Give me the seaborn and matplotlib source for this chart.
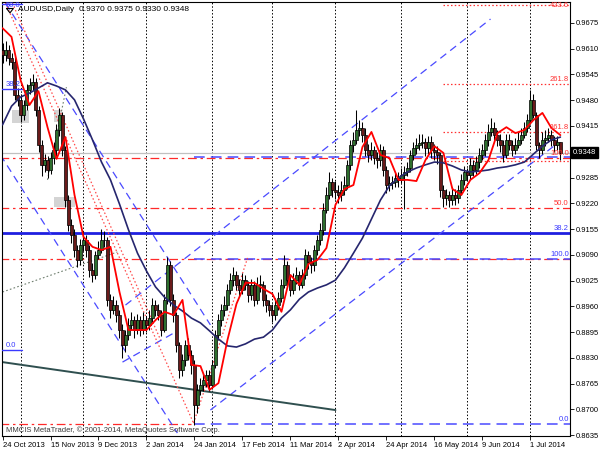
import numpy as np
import pandas as pd
import seaborn as sns
import matplotlib
matplotlib.use("Agg")
import matplotlib.pyplot as plt
from matplotlib.patches import Rectangle

sns.set_theme(style="white")
plt.rcParams["font.family"] = ["Liberation Sans", "DejaVu Sans"]

# ---------------- data ----------------
date_labels = ["24 Oct 2013", "15 Nov 2013", "9 Dec 2013", "2 Jan 2014", "24 Jan 2014",
               "17 Feb 2014", "11 Mar 2014", "2 Apr 2014", "24 Apr 2014", "16 May 2014",
               "9 Jun 2014", "1 Jul 2014"]
date_label_bars = [0, 16, 32, 48, 64, 80, 96, 112, 128, 144, 160, 176]
month_start_bars = [6, 27, 48, 70, 90, 111, 133, 155, 176]

first_open = 0.9607
closes = [
    0.9594, 0.9607, 0.9587, 0.9577, 0.9493, 0.9481, 0.9443, 0.9468, 0.9506, 0.9518,
    0.9526, 0.9455, 0.9367, 0.9317, 0.9329, 0.9304, 0.9334, 0.9354, 0.9405, 0.9443,
    0.9354, 0.9228, 0.9165, 0.9140, 0.9102, 0.9077, 0.9115, 0.9127, 0.9102, 0.9052,
    0.9039, 0.9089, 0.9102, 0.9127, 0.9127, 0.8976, 0.8951, 0.8963, 0.8938, 0.8900,
    0.8862, 0.8887, 0.8913, 0.8925, 0.8900, 0.8925, 0.8900, 0.8925, 0.8913, 0.8930,
    0.8963, 0.8951, 0.8938, 0.8900, 0.8976, 0.9064, 0.8976, 0.8938, 0.8862, 0.8799,
    0.8824, 0.8862, 0.8837, 0.8812, 0.8711, 0.8749, 0.8761, 0.8774, 0.8787, 0.8761,
    0.8812, 0.8887, 0.8925, 0.8951, 0.8963, 0.9001, 0.9026, 0.9039, 0.9014, 0.9001,
    0.9026, 0.9014, 0.8988, 0.9014, 0.8976, 0.9014, 0.9014, 0.8976, 0.8963, 0.8951,
    0.8938, 0.8963, 0.8981, 0.9014, 0.9064, 0.9026, 0.9001, 0.9026, 0.9039, 0.9014,
    0.9039, 0.9089, 0.9072, 0.9064, 0.9102, 0.9127, 0.9153, 0.9203, 0.9241, 0.9274,
    0.9253, 0.9248, 0.9241, 0.9253, 0.9266, 0.9317, 0.9367, 0.9380, 0.9405, 0.9410,
    0.9392, 0.9354, 0.9342, 0.9354, 0.9334, 0.9329, 0.9354, 0.9304, 0.9266, 0.9271,
    0.9274, 0.9284, 0.9279, 0.9291, 0.9299, 0.9309, 0.9342, 0.9359, 0.9367, 0.9372,
    0.9375, 0.9359, 0.9375, 0.9354, 0.9349, 0.9342, 0.9253, 0.9233, 0.9241, 0.9228,
    0.9241, 0.9233, 0.9253, 0.9279, 0.9299, 0.9291, 0.9317, 0.9304, 0.9324, 0.9342,
    0.9354, 0.9380, 0.9400, 0.9410, 0.9392, 0.9380, 0.9367, 0.9342, 0.9380, 0.9367,
    0.9354, 0.9367, 0.9380, 0.9392, 0.9410, 0.9430, 0.9481, 0.9443, 0.9367, 0.9354,
    0.9380, 0.9385, 0.9392, 0.9380, 0.9367, 0.9375, 0.9348]
highs = [
    0.9625, 0.9630, 0.9620, 0.9600, 0.9590, 0.9510, 0.9495, 0.9480, 0.9520, 0.9535,
    0.9545, 0.9535, 0.9465, 0.9380, 0.9345, 0.9340, 0.9350, 0.9375, 0.9420, 0.9460,
    0.9450, 0.9365, 0.9240, 0.9180, 0.9155, 0.9115, 0.9130, 0.9150, 0.9140, 0.9115,
    0.9070, 0.9100, 0.9125, 0.9155, 0.9150, 0.9135, 0.8990, 0.8985, 0.8975, 0.8950,
    0.8915, 0.8900, 0.8930, 0.8945, 0.8935, 0.8940, 0.8935, 0.8945, 0.8935, 0.8950,
    0.8980, 0.8975, 0.8965, 0.8950, 0.8990, 0.9085, 0.9075, 0.8990, 0.8945, 0.8870,
    0.8840, 0.8875, 0.8880, 0.8850, 0.8825, 0.8765, 0.8780, 0.8790, 0.8800, 0.8800,
    0.8825, 0.8900, 0.8940, 0.8965, 0.8985, 0.9015, 0.9045, 0.9060, 0.9050, 0.9030,
    0.9045, 0.9040, 0.9025, 0.9030, 0.9025, 0.9035, 0.9040, 0.9025, 0.8990, 0.8975,
    0.8965, 0.8980, 0.8995, 0.9030, 0.9090, 0.9075, 0.9040, 0.9045, 0.9060, 0.9050,
    0.9055, 0.9105, 0.9100, 0.9085, 0.9115, 0.9140, 0.9170, 0.9220, 0.9260, 0.9300,
    0.9285, 0.9275, 0.9265, 0.9275, 0.9290, 0.9330, 0.9380, 0.9400, 0.9455, 0.9430,
    0.9425, 0.9410, 0.9370, 0.9375, 0.9365, 0.9350, 0.9370, 0.9365, 0.9315, 0.9290,
    0.9290, 0.9300, 0.9300, 0.9310, 0.9315, 0.9325, 0.9355, 0.9375, 0.9385, 0.9395,
    0.9395, 0.9385, 0.9390, 0.9390, 0.9370, 0.9365, 0.9350, 0.9265, 0.9255, 0.9250,
    0.9260, 0.9255, 0.9265, 0.9295, 0.9315, 0.9310, 0.9335, 0.9330, 0.9340, 0.9360,
    0.9370, 0.9395, 0.9420, 0.9435, 0.9425, 0.9405, 0.9395, 0.9380, 0.9395, 0.9395,
    0.9380, 0.9385, 0.9400, 0.9410, 0.9425, 0.9445, 0.9505, 0.9495, 0.9450, 0.9375,
    0.9400, 0.9405, 0.9410, 0.9405, 0.9390, 0.9390, 0.9375]
lows = [
    0.9575, 0.9580, 0.9570, 0.9560, 0.9480, 0.9465, 0.9425, 0.9430, 0.9455, 0.9495,
    0.9505, 0.9440, 0.9350, 0.9290, 0.9300, 0.9285, 0.9295, 0.9320, 0.9340, 0.9390,
    0.9340, 0.9210, 0.9150, 0.9120, 0.9085, 0.9060, 0.9065, 0.9100, 0.9085, 0.9035,
    0.9020, 0.9030, 0.9080, 0.9095, 0.9110, 0.8960, 0.8930, 0.8940, 0.8920, 0.8880,
    0.8830, 0.8845, 0.8875, 0.8900, 0.8880, 0.8890, 0.8885, 0.8890, 0.8895, 0.8900,
    0.8920, 0.8935, 0.8925, 0.8885, 0.8895, 0.8965, 0.8960, 0.8920, 0.8845, 0.8780,
    0.8785, 0.8810, 0.8825, 0.8790, 0.8660, 0.8690, 0.8735, 0.8745, 0.8755, 0.8745,
    0.8750, 0.8805, 0.8875, 0.8910, 0.8935, 0.8950, 0.8990, 0.9010, 0.9000, 0.8985,
    0.8990, 0.9000, 0.8970, 0.8975, 0.8960, 0.8965, 0.8995, 0.8960, 0.8945, 0.8935,
    0.8920, 0.8925, 0.8950, 0.8970, 0.9005, 0.9010, 0.8985, 0.8990, 0.9015, 0.9000,
    0.9005, 0.9030, 0.9055, 0.9045, 0.9050, 0.9090, 0.9115, 0.9140, 0.9195, 0.9230,
    0.9235, 0.9230, 0.9220, 0.9225, 0.9240, 0.9255, 0.9305, 0.9350, 0.9370, 0.9390,
    0.9375, 0.9340, 0.9325, 0.9330, 0.9320, 0.9310, 0.9315, 0.9290, 0.9245, 0.9250,
    0.9255, 0.9260, 0.9260, 0.9270, 0.9205, 0.9290, 0.9300, 0.9330, 0.9345, 0.9355,
    0.9360, 0.9340, 0.9345, 0.9335, 0.9330, 0.9320, 0.9235, 0.9210, 0.9215, 0.9210,
    0.9215, 0.9215, 0.9220, 0.9240, 0.9265, 0.9275, 0.9280, 0.9290, 0.9295, 0.9310,
    0.9330, 0.9340, 0.9365, 0.9390, 0.9380, 0.9365, 0.9350, 0.9325, 0.9335, 0.9355,
    0.9340, 0.9345, 0.9360, 0.9370, 0.9385, 0.9400, 0.9420, 0.9435, 0.9355, 0.9335,
    0.9345, 0.9365, 0.9375, 0.9365, 0.9350, 0.9355, 0.9330]

# moving averages read every 3rd bar
ma_step = 3
fast_ma = [
    0.9662, 0.9640, 0.9531, 0.9468, 0.9503, 0.9412, 0.9332, 0.9387, 0.9241, 0.9135,
    0.9110, 0.9102, 0.9110, 0.8996, 0.8900, 0.8900, 0.8900, 0.8925, 0.8946, 0.8938,
    0.8976, 0.8812, 0.8809, 0.8749, 0.8766, 0.8875, 0.8966, 0.9019, 0.9019, 0.9004,
    0.8991, 0.8946, 0.9039, 0.9014, 0.9067, 0.9077, 0.9107, 0.9216, 0.9256, 0.9266,
    0.9362, 0.9400, 0.9342, 0.9334, 0.9279, 0.9279, 0.9276, 0.9329, 0.9364, 0.9347,
    0.9256, 0.9241, 0.9279, 0.9296, 0.9329, 0.9397, 0.9412, 0.9397, 0.9405, 0.9430,
    0.9448, 0.9410, 0.9392]
slow_ma = [
    0.9418, 0.9465, 0.9488, 0.9498, 0.9511, 0.9524, 0.9516, 0.9506, 0.9481, 0.9433,
    0.9380, 0.9324, 0.9279, 0.9218, 0.9153, 0.9094, 0.9049, 0.9009, 0.8983, 0.8963,
    0.8948, 0.8930, 0.8918, 0.8898, 0.8877, 0.8860, 0.8857, 0.8865, 0.8877, 0.8882,
    0.8900, 0.8930, 0.8951, 0.8978, 0.8996, 0.9006, 0.9014, 0.9026, 0.9057, 0.9094,
    0.9132, 0.9180, 0.9228, 0.9264, 0.9284, 0.9299, 0.9309, 0.9317, 0.9324, 0.9322,
    0.9314, 0.9304, 0.9299, 0.9301, 0.9304, 0.9309, 0.9312, 0.9317, 0.9324, 0.9344,
    0.9364, 0.9380, 0.9387]

# drawn objects: (bar0, price0, bar1, price1)
blue_channel_lines = [(1.0, 0.9725, 69.3, 0.8913), (-0.7, 0.9342, 58.3, 0.8640),
                      (41.0, 0.8963, 162.7, 0.9685), (69.3, 0.8698, 184.3, 0.9367),
                      (40.0, 0.8819, 57.0, 0.8892)]
teal_line = (0.0, 0.8819, 111.0, 0.8698)
grey_dotted_lines = [(0.0, 0.8996, 38.3, 0.9097), (15.0, 0.9279, 21.3, 0.9513)]
red_dotted_lines = [(1.0, 0.9725, 63.7, 0.8665), (3.3, 0.9725, 52.7, 0.8875),
                    (63.7, 0.8665, 81.7, 0.9082)]
red_dashdot_levels = [0.9334, 0.9208, 0.9079]
red_dashdot_low_level = 0.8663
blue_dash_levels = [0.9337, 0.9079, 0.8663]
blue_solid_level = 0.9145
red_dotted_levels = [0.9720, 0.9521, 0.9400, 0.9327]
right_labels = [("423.6", 0.9720, "red"), ("261.8", 0.9521, "red"), ("161.8", 0.9400, "red"),
                ("100.0", 0.9334, "red"), ("50.0", 0.9208, "red"), ("38.2", 0.9145, "blue"),
                ("100.0", 0.9079, "blue"), ("0.0", 0.8663, "blue")]
left_labels = [("50.0", 0.9722), ("38.2", 0.9508), ("0.0", 0.8850)]
grey_boxes = [(3.3, 0.9423, 5.4, 0.0032), (17.0, 0.9425, 3.0, 0.0030), (17.0, 0.9211, 7.3, 0.0025)]
bid_price = 0.9348
legend_text = "AUDUSD,Daily  0.9370 0.9375 0.9330 0.9348"
copyright_text = "MMCIS MetaTrader, \u00a9 2001-2014, MetaQuotes Software Corp."

# ---------------- figure ----------------
n = len(closes)
bars = np.arange(n)
opens = np.array([first_open] + closes[:-1])
closes_a = np.array(closes)

fig = plt.figure(figsize=(6, 4.5), dpi=100)
fig.patch.set_facecolor("white")
ax = fig.add_axes([2 / 600, 14 / 450, 568 / 600, 434 / 450])
ax.set_facecolor("white")
ax.set_xlim(-0.17, 189.2)
ax.set_ylim(0.86325, 0.97280)

for b in month_start_bars:
    ax.axvline(b, color="black", lw=0.7, ls=(0, (1.5, 2)), zorder=1)

for (x, y, w, h) in grey_boxes:
    ax.add_patch(Rectangle((x, y), w, h, facecolor="#d4d4d4", edgecolor="none", zorder=1))

# horizontal levels
for lv in red_dashdot_levels:
    ax.plot([-1, 190], [lv, lv], color="#ff2a2a", lw=0.9, ls=(0, (7, 3, 2, 3)), zorder=2)
ax.plot([-1, 63], [red_dashdot_low_level] * 2, color="#ff2a2a", lw=0.9, ls=(0, (7, 3, 2, 3)), zorder=2)
for lv in blue_dash_levels:
    ax.plot([64, 190], [lv, lv], color="#4a4aff", lw=1.1, ls=(0, (7, 4)), zorder=2)
ax.axhline(blue_solid_level, color="#1f1fe0", lw=2.0, zorder=2)
for lv in red_dotted_levels:
    ax.plot([147, 190], [lv, lv], color="#ff3030", lw=0.9, ls=(0, (1.2, 1.8)), zorder=2)
ax.axhline(bid_price, color="#c0c0c0", lw=0.9, zorder=2)

# trend lines
for (x0, y0, x1, y1) in blue_channel_lines:
    ax.plot([x0, x1], [y0, y1], color="#4a4aff", lw=0.9, ls=(0, (6, 4)), zorder=2)
ax.plot([teal_line[0], teal_line[2]], [teal_line[1], teal_line[3]], color="#2f4f4f", lw=1.4, zorder=2)
for (x0, y0, x1, y1) in grey_dotted_lines:
    ax.plot([x0, x1], [y0, y1], color="#6f7f6f", lw=0.8, ls=(0, (1.5, 2)), zorder=2)
for (x0, y0, x1, y1) in red_dotted_lines:
    ax.plot([x0, x1], [y0, y1], color="#ff4a4a", lw=0.9, ls=(0, (1.2, 1.8)), zorder=2)

# candles
ax.vlines(bars, lows, highs, color="black", lw=0.75, zorder=3)
up = closes_a >= opens
body_bottom = np.minimum(opens, closes_a)
body_h = np.maximum(np.abs(closes_a - opens), 0.00015)
ax.bar(bars[up], body_h[up], bottom=body_bottom[up], width=0.75, color="#2e6f2e",
       edgecolor="black", linewidth=0.5, zorder=4)
ax.bar(bars[~up], body_h[~up], bottom=body_bottom[~up], width=0.75, color="#6a1a1a",
       edgecolor="black", linewidth=0.5, zorder=4)

# moving averages
ma_df = pd.DataFrame({"bar": np.arange(0, n, ma_step)[:len(fast_ma)],
                      "fast": fast_ma, "slow": slow_ma})
sns.lineplot(data=ma_df, x="bar", y="slow", color="#26266e", lw=1.2, ax=ax, zorder=5)
sns.lineplot(data=ma_df, x="bar", y="fast", color="#ff0000", lw=1.3, ax=ax, zorder=6)

# labels
ylo, yhi = ax.get_ylim()
for txt, lv, col in right_labels:
    va = "bottom"
    y = lv + 0.0003
    if lv + 0.0030 > yhi:
        va, y = "top", yhi - 0.0001
    ax.text(188.8, y, txt, color=("#ff3030" if col == "red" else "#3a3aff"),
            fontsize=5.5, ha="right", va=va, zorder=7)
for txt, lv in left_labels:
    va = "bottom"
    y = lv + 0.0003
    if lv + 0.0030 > yhi:
        va, y = "top", yhi - 0.0001
    ax.text(1.0, y, txt, color="#3a3aff", fontsize=5.5, ha="left", va=va, zorder=7)
    ax.plot([-0.5, 6.5], [lv, lv], color="#3a3aff", lw=1.0, zorder=7)

ax.text(0.028, 0.991, legend_text, transform=ax.transAxes, fontsize=6, color="black",
        ha="left", va="top", zorder=8)
ax.plot([0.008, 0.020, 0.014, 0.008], [0.985, 0.985, 0.975, 0.985], transform=ax.transAxes,
        color="black", lw=0.8, zorder=8)
ax.text(0.007, 0.004, copyright_text, transform=ax.transAxes, fontsize=5.5, color="#3a3a3a",
        ha="left", va="bottom", zorder=8)

# axes
ax.set_xlabel("")
ax.set_ylabel("")
ax.yaxis.tick_right()
yt = np.round(np.arange(0.8635, 0.9700, 0.0065), 4)
ax.set_yticks(yt)
ax.set_yticklabels(["" if abs(v - bid_price) < 0.0015 else f"{v:.4f}" for v in yt], fontsize=5.5)
ax.set_xticks(date_label_bars)
ax.set_xticklabels(date_labels, fontsize=5.5)
for lab in ax.get_xticklabels():
    lab.set_ha("left")
ax.tick_params(axis="both", which="both", direction="out", length=3, width=0.6,
               color="black", pad=1.5, labelcolor="black")
ax.tick_params(axis="x", bottom=True)
ax.tick_params(axis="y", right=True, left=False)
for s in ax.spines.values():
    s.set_color("black")
    s.set_linewidth(0.8)
    s.set_visible(True)

ax.text(1.0 + 3 / 568, bid_price, f"{bid_price:.4f}", transform=ax.get_yaxis_transform(),
        fontsize=5.5, color="white", ha="left", va="center", zorder=10,
        bbox=dict(boxstyle="square,pad=0.25", facecolor="black", edgecolor="black"))
ax.grid(False)

fig.savefig("out.png", dpi=100, facecolor="white")
